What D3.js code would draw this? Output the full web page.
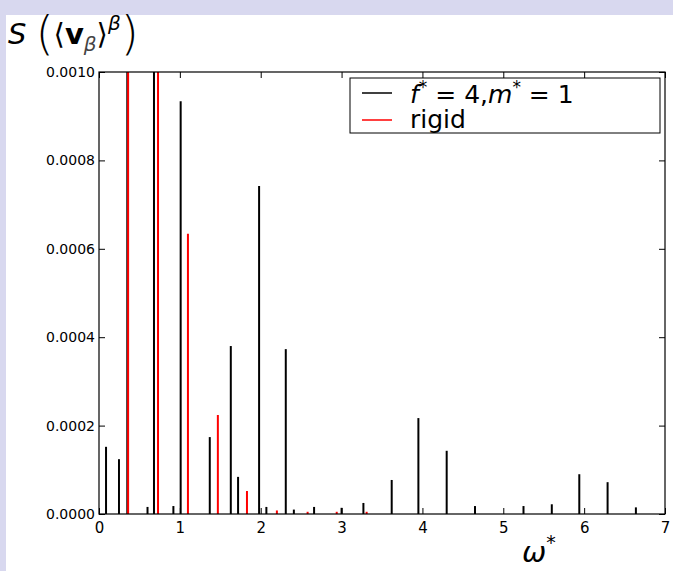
<!DOCTYPE html><html><head><meta charset="utf-8"><script src="https://d3js.org/d3.v7.min.js"></script>
<style>body{margin:0;background:#d8d8ef}svg{display:block}</style></head><body><svg id="c" width="673" height="571"></svg>
<script>
const blackW=[0.087,0.247,0.35,0.6,0.68,0.92,1.01,1.37,1.63,1.72,1.98,2.07,2.31,2.41,2.66,3.0,3.27,3.62,3.95,4.30,4.65,5.25,5.6,5.94,6.29,6.64];
const blackV=[0.000152,0.000124,0.002,0.000016,0.002,0.000018,0.000934,0.000174,0.00038,0.000084,0.000742,0.000016,0.000373,0.00001,0.000016,0.000014,0.000025,0.000077,0.000217,0.000143,0.000018,0.000018,0.000022,0.00009,0.000072,0.000015];
const redW=[0.36,0.73,1.10,1.47,1.83,2.2,2.58,2.94,3.31];
const redV=[0.002,0.002,0.000634,0.000224,0.000052,0.000008,0.000005,0.000005,0.000005];
const xTicks=[0,1,2,3,4,5,6,7];
const yTicks=[0,0.0002,0.0004,0.0006,0.0008,0.0010];
const svg=d3.select("#c");
svg.append("rect").attr("x",6).attr("y",15).attr("width",667).attr("height",556).attr("fill","#fff");
const L=99,R=665,T=72,B=514;
const x=d3.scaleLinear().domain([0,7]).range([L,R]);
const y=d3.scaleLinear().domain([0,0.001]).range([B,T]);
const g=svg.append("g");
g.append("clipPath").attr("id","cp").append("rect").attr("x",L).attr("y",T).attr("width",R-L).attr("height",B-T);
const p=g.append("g").attr("clip-path","url(#cp)");
p.selectAll(".b").data(blackW).join("line").attr("x1",d=>x(d)).attr("x2",d=>x(d)).attr("y1",B).attr("y2",(d,i)=>y(blackV[i])).attr("stroke","#000").attr("stroke-width",2);
p.selectAll(".r").data(redW).join("line").attr("x1",d=>x(d)).attr("x2",d=>x(d)).attr("y1",B).attr("y2",(d,i)=>y(redV[i])).attr("stroke","#f00").attr("stroke-width",2);
const f="DejaVu Sans, sans-serif";
const ax=g.append("g").attr("transform",`translate(0,${B})`).call(d3.axisBottom(x).tickValues(xTicks).tickFormat(d3.format("d")).tickSizeInner(-6).tickSizeOuter(0).tickPadding(8));
const ax2=g.append("g").attr("transform",`translate(0,${T})`).call(d3.axisTop(x).tickValues(xTicks).tickFormat("").tickSizeInner(-6).tickSizeOuter(0));
const ay=g.append("g").attr("transform",`translate(${L},0)`).call(d3.axisLeft(y).tickValues(yTicks).tickFormat(d3.format(".4f")).tickSizeInner(-6).tickSizeOuter(0).tickPadding(4));
const ay2=g.append("g").attr("transform",`translate(${R},0)`).call(d3.axisRight(y).tickValues(yTicks).tickFormat("").tickSizeInner(-6).tickSizeOuter(0));
[ax,ax2,ay,ay2].forEach(a=>{a.select(".domain").remove();a.selectAll("text").attr("font-family",f).attr("fill","#000");});
ax.selectAll("text").attr("font-size",15);ay.selectAll("text").attr("font-size",14);
g.append("rect").attr("x",L).attr("y",T).attr("width",R-L).attr("height",B-T).attr("fill","none").attr("stroke","#000").attr("stroke-width",1.2);
// legend
g.append("rect").attr("x",350).attr("y",78).attr("width",310).attr("height",55).attr("fill","#fff").attr("stroke","#000").attr("stroke-width",1);
g.append("line").attr("x1",362).attr("x2",392).attr("y1",93).attr("y2",93).attr("stroke","#000").attr("stroke-width",1.5);
g.append("line").attr("x1",362).attr("x2",392).attr("y1",120).attr("y2",120).attr("stroke","#f00").attr("stroke-width",1.5);
const t1=g.append("text").attr("x",410).attr("y",103).attr("font-family",f).attr("font-size",25);
t1.append("tspan").attr("font-style","italic").text("f");
t1.append("tspan").attr("dy",-10).attr("font-size",17).text("*");
t1.append("tspan").attr("dy",10).text(" = 4,");
t1.append("tspan").attr("font-style","italic").text("m");
t1.append("tspan").attr("dy",-10).attr("font-size",17).text("*");
t1.append("tspan").attr("dy",10).text(" = 1");
g.append("text").attr("x",410).attr("y",128).attr("font-family",f).attr("font-size",25).text("rigid");
// y label
const yl=g.append("text").attr("x",8).attr("y",44).attr("font-family",f).attr("font-size",29);
yl.append("tspan").attr("font-style","italic").text("S ");
yl.append("tspan").attr("font-size",46).attr("dy",5).attr("font-weight",200).text("(");
yl.append("tspan").attr("dy",-5).text("⟨");
yl.append("tspan").attr("font-weight","bold").text("v");
yl.append("tspan").attr("font-style","italic").attr("font-size",20).attr("dy",7).attr("fill","#444").text("β");
yl.append("tspan").attr("dy",-7).text("⟩");
yl.append("tspan").attr("font-style","italic").attr("font-size",20).attr("dy",-14).text("β");
yl.append("tspan").attr("font-size",46).attr("dy",19).attr("font-weight",200).text(")");
const xl=g.append("text").attr("x",522).attr("y",562).attr("font-family",f).attr("font-size",29);
xl.append("tspan").attr("font-style","italic").text("ω");
xl.append("tspan").attr("font-size",19).attr("dy",-13).text("*");
</script></body></html>
